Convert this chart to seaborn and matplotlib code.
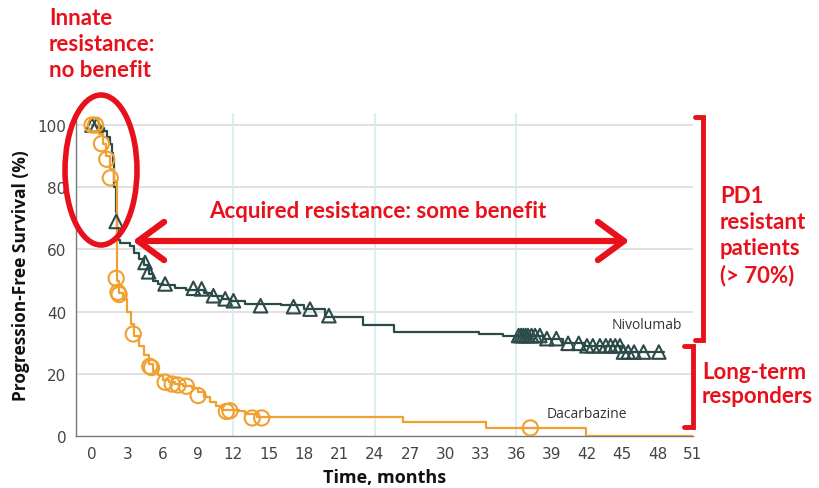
import numpy as np
import pandas as pd
import matplotlib
matplotlib.use("Agg")
import matplotlib.pyplot as plt
import seaborn as sns
from matplotlib.patches import Ellipse
from matplotlib.lines import Line2D

# ---------------- data ----------------
niv_t = [0, 0.5, 1.0, 1.3, 1.5, 1.7, 1.8, 1.9, 2.0, 2.1, 2.2, 2.4, 3.2, 3.6, 4.0, 4.4, 4.8,
         5.2, 5.6, 6.0, 7.0, 8.0, 9.5, 10.2, 11.0, 11.8, 13.0, 16.0, 18.0, 19.8, 23.0, 25.6,
         32.8, 34.9, 38.3, 40.0, 41.8, 44.9, 48.5]
niv_s = [100, 99, 98, 96, 94, 91, 88, 80, 72, 67, 63, 62, 61, 59, 57, 55, 52,
         50, 49, 48.5, 47.5, 47, 46, 45, 44, 43.5, 42.5, 42, 41, 38.3, 35.8, 33.6,
         32.8, 32.3, 31.3, 29.8, 29.0, 27.0, 27.0]

niv_cens_t = [0, 0.4, 2.05, 4.5, 4.8, 6.2, 8.6, 9.3, 10.3, 11.3, 12.0, 14.3, 17.1, 18.5, 20.1,
              36.2, 36.4, 36.6, 36.8, 37.0, 37.3, 37.6, 38.0, 38.6, 39.4, 40.4, 41.3, 42.0,
              42.5, 43.1, 43.6, 44.0, 44.4, 44.8, 45.1, 45.5, 46.0, 46.8, 48.1]
niv_cens_s = [100, 100, 69, 55.8, 52.8, 48.9, 47.5, 47.3, 45.1, 44.1, 43.5, 41.9, 41.6, 40.8, 38.7,
              32.3, 32.3, 32.3, 32.3, 32.3, 32.3, 32.3, 32.3, 31.3, 31.3, 29.8, 29.8, 29.0,
              29.0, 29.0, 29.0, 29.0, 29.0, 29.0, 27.0, 27.0, 27.0, 27.0, 27.0]

dac_t = [0, 0.6, 0.9, 1.2, 1.5, 1.85, 2.15, 2.3, 2.6, 3.0, 3.3, 3.6, 4.0, 4.4, 4.8,
         5.2, 5.6, 6.0, 6.5, 7.0, 7.7, 8.5, 9.0, 9.5, 10.0, 10.5, 11.0, 12.5, 13.0,
         14.0, 26.4, 33.4, 41.9, 51]
dac_s = [100, 97, 94, 90, 86, 82, 50, 46, 44, 40, 36, 32, 29, 26, 23,
         21, 19.5, 18, 17.3, 16.7, 16.2, 15.5, 14, 12.5, 11, 9.5, 8.5, 8, 7,
         6, 4.4, 2.6, 0, 0]

dac_cens_t = [0, 0.3, 0.8, 1.25, 1.55, 2.05, 2.2, 2.3, 3.5, 4.9, 5.05, 6.2, 6.8, 7.3, 8.0, 9.0,
              11.4, 11.7, 13.6, 14.4, 37.2]
dac_cens_s = [100, 100, 94, 89, 83, 50.7, 46.2, 45.5, 32.8, 22.4, 22.0, 17.3, 16.7, 16.4, 16.0,
              13.0, 7.9, 8.1, 5.8, 5.8, 2.6]

x_ticks = list(range(0, 52, 3))
y_ticks = [0, 20, 40, 60, 80, 100]

NIV = "#2c4a48"
DAC = "#f0a02e"
RED = "#e8101a"

W, H = 819, 489
fig = plt.figure(figsize=(W / 100, H / 100), dpi=100)
sns.set_style("white")

ax = fig.add_axes([76 / W, 1 - 437 / H, (693 - 76) / W, (437 - 113.6) / H])

# grid
for yv in y_ticks[1:]:
    ax.axhline(yv, color="#dcdcdc", lw=1.2, zorder=0)
for xv in [12, 24, 36]:
    ax.axvline(xv, color="#d5ecee", lw=1.2, zorder=0)

niv_df = pd.DataFrame({"t": niv_t, "s": niv_s})
dac_df = pd.DataFrame({"t": dac_t, "s": dac_s})
sns.lineplot(data=niv_df, x="t", y="s", ax=ax, color=NIV, lw=1.6, drawstyle="steps-post",
             estimator=None, sort=False, zorder=3)
sns.lineplot(data=dac_df, x="t", y="s", ax=ax, color=DAC, lw=1.6, drawstyle="steps-post",
             estimator=None, sort=False, zorder=3)

sns.scatterplot(x=niv_cens_t, y=niv_cens_s, ax=ax, marker="^", s=95, facecolor="none",
                edgecolor=NIV, linewidth=1.5, zorder=4)
sns.scatterplot(x=dac_cens_t, y=dac_cens_s, ax=ax, marker="o", s=120, facecolor="none",
                edgecolor=DAC, linewidth=1.5, zorder=4)

ax.set_xlim(-1.36, 51)
ax.set_ylim(0, 104)
ax.set_xticks(x_ticks)
ax.set_yticks(y_ticks)
tickfont = ["Liberation Sans Narrow", "DejaVu Sans"]
ax.set_xticklabels([str(v) for v in x_ticks], family=tickfont, fontsize=11, color="#444444")
ax.set_yticklabels([str(v) for v in y_ticks], family=tickfont, fontsize=11, color="#444444")
ax.tick_params(axis="both", direction="out", length=4, width=1, color="#777777", pad=3)
for side in ["top", "right"]:
    ax.spines[side].set_visible(False)
for side in ["left", "bottom"]:
    ax.spines[side].set_color("#777777")
    ax.spines[side].set_linewidth(1.0)

ax.set_xlabel("Time, months", family=["Open Sans", "DejaVu Sans"], fontweight="bold",
              fontsize=13, color="#111111", labelpad=5)
ax.set_ylabel("Progression-Free Survival (%)", family=["Open Sans", "DejaVu Sans"],
              fontweight="bold", fontsize=12.5, color="#111111", labelpad=5)

ax.text(47.1, 35.9, "Nivolumab", fontsize=10, color="#333333", ha="center", va="center",
        family=["Open Sans", "DejaVu Sans"])
ax.text(42.0, 7.1, "Dacarbazine", fontsize=10, color="#333333", ha="center", va="center",
        family=["Open Sans", "DejaVu Sans"])

# ---------------- annotations (figure pixels -> fraction) ----------------
def fx(px):
    return px / W

def fy(py):
    return 1 - py / H

afont = ["Lato", "DejaVu Sans"]
fig.text(fx(49), fy(8), "Innate\nresistance:\nno benefit", color=RED, fontsize=16,
         fontweight="bold", family=afont, ha="left", va="top", linespacing=1.3)
fig.text(fx(378), fy(211), "Acquired resistance: some benefit", color=RED, fontsize=16,
         fontweight="bold", family=afont, ha="center", va="center")
fig.text(fx(720), fy(186), "PD1\nresistant\npatients\n(> 70%)", color=RED, fontsize=16,
         fontweight="bold", family=afont, ha="left", va="top", linespacing=1.3)
fig.text(fx(702), fy(362), "Long-term\nresponders", color=RED, fontsize=16,
         fontweight="bold", family=afont, ha="left", va="top", linespacing=1.2)

ell = Ellipse((fx(101), fy(171)), 72 / W, 150 / H, transform=fig.transFigure,
              fill=False, edgecolor=RED, lw=4, clip_on=False, zorder=10)
fig.patches.append(ell)

fig.add_artist(matplotlib.patches.FancyArrowPatch(
    (fx(130), fy(242)), (fx(632), fy(242)), transform=fig.transFigure,
    arrowstyle="<->,head_length=0.75,head_width=0.55", mutation_scale=25,
    color=RED, lw=4.5, clip_on=False))

def bracket(x, y0, y1, tick):
    fig.add_artist(Line2D([fx(x - tick), fx(x), fx(x), fx(x - tick)],
                          [fy(y0), fy(y0), fy(y1), fy(y1)], transform=fig.transFigure,
                          color=RED, lw=3.5, solid_joinstyle="miter"))

bracket(703, 118, 341, 8)
bracket(693, 347, 428, 9)

fig.savefig("out.png", dpi=100)
